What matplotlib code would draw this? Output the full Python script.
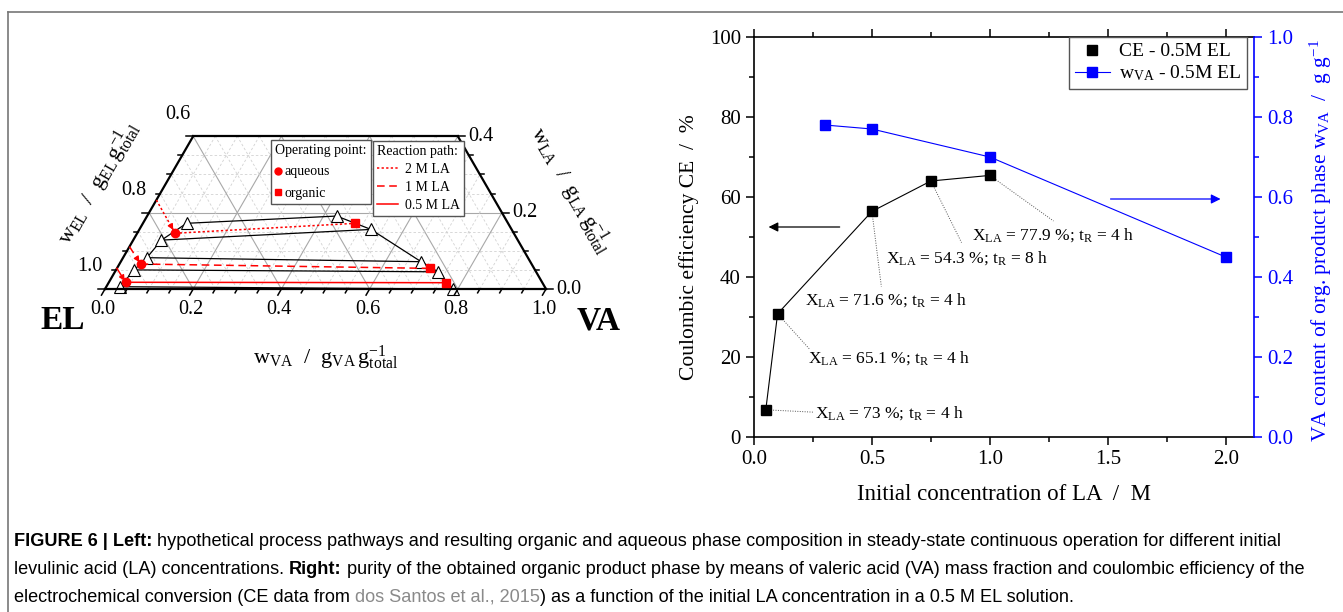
import numpy as np
import matplotlib
matplotlib.use("Agg")
import matplotlib.pyplot as plt
from matplotlib.lines import Line2D
from matplotlib import font_manager

W, H = 1343, 612
SERIF = "Liberation Serif"
plt.rcParams["font.family"] = SERIF
plt.rcParams["mathtext.fontset"] = "custom"
plt.rcParams["mathtext.rm"] = SERIF
plt.rcParams["mathtext.it"] = SERIF + ":italic"
plt.rcParams["mathtext.bf"] = SERIF + ":bold"

names = {f.name for f in font_manager.fontManager.ttflist}
SANS = "Liberation Sans Narrow" if "Liberation Sans Narrow" in names else "Liberation Sans"

# ── Left: ternary data (w_VA, w_LA), w_EL = 1 - w_VA - w_LA ──────────────────
bin_left_va = [0.099, 0.064, 0.054, 0.041, 0.031]
bin_left_la = [0.172, 0.128, 0.082, 0.050, 0.006]
bin_right_va = [0.430, 0.525, 0.681, 0.733, 0.790]
bin_right_la = [0.191, 0.156, 0.0715, 0.045, 0.0]

path_labels = ["2 M LA", "1 M LA", "0.5 M LA"]
path_styles = [(0, (1.5, 1.5)), (0, (5, 3)), "-"]
feed_la = [0.233, 0.111, 0.054]
aq_va = [0.086, 0.048, 0.038]
aq_la = [0.146, 0.0654, 0.0176]
org_va = [0.482, 0.710, 0.766]
org_la = [0.172, 0.054, 0.0165]

# ── Right: CE and w_VA vs initial LA concentration ───────────────────────────
conc_ce = [0.05, 0.1, 0.5, 0.75, 1.0]
ce = [6.8, 30.8, 56.4, 64.0, 65.4]
conv_text = ["73", "65.1", "71.6", "54.3", "77.9"]
time_text = ["4", "4", "4", "8", "4"]
conc_wva = [0.3, 0.5, 1.0, 2.0]
wva = [0.78, 0.77, 0.70, 0.45]

S3 = np.sqrt(3) / 2


def tern(va, la):
    va = np.asarray(va, dtype=float)
    la = np.asarray(la, dtype=float)
    return va + 0.5 * la, la * S3


fig = plt.figure(figsize=(W / 100, H / 100), dpi=100)
renderer = fig.canvas.get_renderer()

# figure frame (left and top only visible)
fig.add_artist(Line2D([8 / W, 8 / W], [0, 1 - 12 / H], color="#777777", lw=1.2))
fig.add_artist(Line2D([8 / W, 1], [1 - 12 / H, 1 - 12 / H], color="#777777", lw=1.2))

# ═════════════════════════ ternary panel ═════════════════════════════════════
LAMAX = 0.4
axt = fig.add_axes([105 / W, 1 - 289 / H, 441 / W, LAMAX * S3 * 441 / H])
axt.set_xlim(0, 1)
axt.set_ylim(0, LAMAX * S3)
axt.axis("off")

major_grid = dict(color="#a8a8a8", lw=0.8, ls="-", zorder=1)
minor_grid = dict(color="#d2d2d2", lw=0.6, ls=(0, (3, 2.5)), zorder=1)
for k in range(1, 20):
    v = k * 0.05
    st = major_grid if k % 4 == 0 else minor_grid
    if v < LAMAX - 1e-9:
        axt.plot(*tern([0, 1 - v], [v, v]), **st)
    lam = min(LAMAX, 1 - v)
    axt.plot(*tern([v, v], [0, lam]), **st)
    s = 1 - v
    lam = min(LAMAX, s)
    axt.plot(*tern([s, s - lam], [0, lam]), **st)

# frame edges
edge = dict(color="black", lw=1.6, zorder=5, solid_capstyle="projecting", clip_on=False)
axt.plot(*tern([0, 1], [0, 0]), **edge)
axt.plot(*tern([0, 0], [0, LAMAX]), **edge)
axt.plot(*tern([1, 1 - LAMAX], [0, LAMAX]), **edge)
axt.plot(*tern([0, 1 - LAMAX], [LAMAX, LAMAX]), **edge)

# ticks + tick labels
TFS = 14.5
tick = dict(color="black", lw=1.1, clip_on=False, zorder=5)
for k in range(0, 21):
    v = k * 0.05
    x0, y0 = tern(v, 0)
    L = 0.016 if k % 4 == 0 else 0.010
    axt.plot([x0, x0 - 0.5 * L], [y0, y0 - S3 * L], **tick)
    if k % 4 == 0:
        axt.text(x0 - 0.005, y0 - 0.026, f"{v:.1f}", ha="center", va="top", fontsize=TFS)
for k in range(0, 9):
    la = k * 0.05
    L = 0.016 if k % 4 == 0 else 0.010
    x0, y0 = tern(0, la)
    axt.plot([x0, x0 - L], [y0, y0], **tick)
    x1, y1 = tern(1 - la, la)
    axt.plot([x1, x1 + L], [y1, y1], **tick)
    if k % 4 == 0:
        axt.text(x0 - 0.034, y0 + 0.05, f"{1 - la:.1f}", ha="center", va="center", fontsize=TFS)
        axt.text(x1 + 0.024, y1, f"{la:.1f}", ha="left", va="center", fontsize=TFS)

# binodal and tie lines
axt.plot(*tern(bin_left_va, bin_left_la), color="black", lw=0.9, zorder=3)
axt.plot(*tern(bin_right_va, bin_right_la), color="black", lw=0.9, zorder=3)
for i in range(len(bin_left_va)):
    axt.plot(*tern([bin_left_va[i], bin_right_va[i]], [bin_left_la[i], bin_right_la[i]]),
             color="black", lw=0.9, zorder=3)
tri = dict(marker="^", ms=9, mfc="white", mec="black", mew=0.8, ls="none", zorder=4, clip_on=False)
axt.plot(*tern(bin_left_va, bin_left_la), **tri)
axt.plot(*tern(bin_right_va, bin_right_la), **tri)

# operating paths
for i in range(3):
    fx, fy = tern(0, feed_la[i])
    ax_, ay_ = tern(aq_va[i], aq_la[i])
    ox, oy = tern(org_va[i], org_la[i])
    axt.plot([fx, ax_], [fy, ay_], color="red", lw=1.1, ls=path_styles[i], zorder=6)
    axt.plot([ax_, ox], [ay_, oy], color="red", lw=1.1, ls=path_styles[i], zorder=6)
    axt.annotate("", xy=(fx + (ax_ - fx) * 0.9, fy + (ay_ - fy) * 0.9),
                 xytext=(fx + (ax_ - fx) * 0.78, fy + (ay_ - fy) * 0.78),
                 arrowprops=dict(arrowstyle="-|>", color="red", lw=1, mutation_scale=8),
                 zorder=7)
    axt.plot(ax_, ay_, marker="o", ms=6, color="red", ls="none", zorder=8, clip_on=False)
    axt.plot(ox, oy, marker="s", ms=5.5, color="red", ls="none", zorder=8, clip_on=False)

# axis titles
AFS = 16
axt.text(0.5, -0.155, r"$\mathrm{w}_{\mathrm{VA}}$  /  $\mathrm{g}_{\mathrm{VA}}\,\mathrm{g}_{\mathrm{total}}^{\mathrm{-1}}$",
         ha="center", va="center", fontsize=AFS)
axt.text(-0.015, 0.24, r"$\mathrm{w}_{\mathrm{EL}}$  /  $\mathrm{g}_{\mathrm{EL}}\,\mathrm{g}_{\mathrm{total}}^{\mathrm{-1}}$",
         ha="center", va="center", fontsize=AFS, rotation=60, rotation_mode="anchor")
axt.text(1.057, 0.225, r"$\mathrm{w}_{\mathrm{LA}}$  /  $\mathrm{g}_{\mathrm{LA}}\,\mathrm{g}_{\mathrm{total}}^{\mathrm{-1}}$",
         ha="center", va="center", fontsize=AFS, rotation=-60, rotation_mode="anchor")
axt.text(-0.095, -0.072, "EL", ha="center", va="center", fontsize=24, fontweight="bold")
axt.text(1.12, -0.072, "VA", ha="center", va="center", fontsize=24, fontweight="bold")

# legends
LFS = 10
h_op = [Line2D([], [], marker="o", ms=5, color="red", ls="none"),
        Line2D([], [], marker="s", ms=4.5, color="red", ls="none")]
leg1 = axt.legend(h_op, ["aqueous", "organic"], title="Operating point:", loc="upper left",
                  bbox_to_anchor=(271 / W, 1 - 140 / H), bbox_transform=fig.transFigure,
                  fontsize=LFS, title_fontsize=LFS, fancybox=False, edgecolor="#555555",
                  framealpha=1, handlelength=0.4, handletextpad=0.3, borderpad=0.3,
                  labelspacing=0.6, alignment="left", borderaxespad=0)
leg1.get_frame().set_linewidth(1)
leg1.set_zorder(10)
axt.add_artist(leg1)
x_leg2 = leg1.get_window_extent(renderer).x1 + 2
h_rp = [Line2D([], [], color="red", lw=1.1, ls=s) for s in path_styles]
leg2 = axt.legend(h_rp, path_labels, title="Reaction path:", loc="upper left",
                  bbox_to_anchor=(x_leg2 / W, 1 - 141 / H), bbox_transform=fig.transFigure,
                  fontsize=LFS, title_fontsize=LFS, fancybox=False, edgecolor="#555555",
                  framealpha=1, handlelength=1.5, handletextpad=0.5, borderpad=0.3,
                  labelspacing=0.35, alignment="left", borderaxespad=0)
leg2.get_frame().set_linewidth(1)
leg2.set_zorder(10)

# ═════════════════════════ right panel ═══════════════════════════════════════
ax = fig.add_axes([754 / W, 1 - 437 / H, 500 / W, 400 / H])
ax.set_xlim(0, 2.12)
ax.set_ylim(0, 100)
ax.set_xticks([0, 0.5, 1.0, 1.5, 2.0])
ax.set_xticks(np.arange(0, 2.1, 0.25), minor=True)
ax.set_yticks(np.arange(0, 101, 20))
ax.set_yticks(np.arange(0, 101, 10), minor=True)
ax.xaxis.set_major_formatter(matplotlib.ticker.FormatStrFormatter("%.1f"))
ax.tick_params(which="both", direction="out", top=True, labelsize=15, width=1.1)
ax.tick_params(which="major", length=6)
ax.tick_params(which="minor", length=3.5)
for sp in ax.spines.values():
    sp.set_linewidth(1.2)
ax.spines["right"].set_visible(False)

ax.plot(conc_ce, ce, color="black", lw=0.8, zorder=3)
ax.plot(conc_ce, ce, marker="s", ms=7, color="black", ls="none", zorder=4, clip_on=False)

# annotations for CE points
label_pos = [(0.26, 6.0), (0.23, 19.8), (0.215, 34.3), (0.56, 44.8), (0.925, 50.6)]
line_end = [(0.255, 6.2), (0.235, 22.0), (0.54, 37.6), (0.88, 48.6), (1.27, 54.0)]
for i in range(len(conc_ce)):
    ax.plot([conc_ce[i], line_end[i][0]], [ce[i], line_end[i][1]], color="#555555",
            lw=0.7, ls=(0, (1, 1.5)), zorder=2)
    ax.text(label_pos[i][0], label_pos[i][1],
            r"X$_{\mathrm{LA}}$ = " + conv_text[i] + r" %; t$_{\mathrm{R}}$ = " + time_text[i] + " h",
            ha="left", va="center", fontsize=12.5)

ax.annotate("", xy=(0.05, 52.5), xytext=(0.375, 52.5),
            arrowprops=dict(arrowstyle="-|>", color="black", lw=0.9, mutation_scale=14))

ax.set_xlabel("Initial concentration of LA  /  M", fontsize=16.5)
ax.xaxis.set_label_coords(0.5, -0.118)
ax.set_ylabel("Coulombic efficiency CE  /  %", fontsize=15.5)
ax.yaxis.set_label_coords(-0.11, 0.475)

ax2 = ax.twinx()
ax2.set_ylim(0, 1)
ax2.set_yticks(np.arange(0, 1.01, 0.2))
ax2.set_yticks(np.arange(0, 1.01, 0.1), minor=True)
ax2.yaxis.set_major_formatter(matplotlib.ticker.FormatStrFormatter("%.1f"))
for sp in ["left", "top", "bottom"]:
    ax2.spines[sp].set_visible(False)
ax2.spines["right"].set_color("blue")
ax2.spines["right"].set_linewidth(1.2)
ax2.tick_params(which="both", direction="out", colors="blue", labelsize=15, width=1.1)
ax2.tick_params(which="major", length=6)
ax2.tick_params(which="minor", length=3.5)
ax2.plot(conc_wva, wva, color="blue", lw=0.8, marker="s", ms=7, zorder=3, clip_on=False)
ax2.annotate("", xy=(1.99, 0.595), xytext=(1.5, 0.595),
             arrowprops=dict(arrowstyle="-|>", color="blue", lw=0.9, mutation_scale=14))
ax2.set_ylabel(r"VA content of org. product phase w$_{\mathrm{VA}}$  /  g g$^{\mathrm{-1}}$",
               color="blue", fontsize=15.5)
ax2.yaxis.set_label_coords(1.108, 0.49)

h_r = [Line2D([], [], marker="s", ms=7, color="black", ls="none"),
       Line2D([], [], marker="s", ms=7, color="blue", lw=0.8)]
leg3 = ax2.legend(h_r, ["CE - 0.5M EL", r"w$_{\mathrm{VA}}$ - 0.5M EL"], loc="upper right",
                  bbox_to_anchor=(1247 / W, 1 - 37 / H), bbox_transform=fig.transFigure,
                  fontsize=14, fancybox=False, edgecolor="#555555", framealpha=1,
                  handlelength=1.8, handletextpad=0.5, borderpad=0.3, labelspacing=0.15,
                  borderaxespad=0)
leg3.get_frame().set_linewidth(1)

# ═════════════════════════ caption ═══════════════════════════════════════════
caption = [
    [("FIGURE 6 | Left:", "bold", "black"),
     (" hypothetical process pathways and resulting organic and aqueous phase composition in "
      "steady-state continuous operation for different initial", "normal", "black")],
    [("levulinic acid (LA) concentrations. ", "normal", "black"), ("Right:", "bold", "black"),
     (" purity of the obtained organic product phase by means of valeric acid (VA) mass fraction "
      "and coulombic efficiency of the", "normal", "black")],
    [("electrochemical conversion (CE data from ", "normal", "black"),
     ("dos Santos et al., 2015", "normal", "#8a8a8a"),
     (") as a function of the initial LA concentration in a 0.5 M EL solution.", "normal", "black")],
]


def line_width(parts, size):
    total = 0
    for txt, wt, col in parts:
        t = fig.text(0, 0, txt, fontsize=size, fontweight=wt, family=SANS)
        total += t.get_window_extent(renderer).width
        t.remove()
    return total


cap_size = 11.5 * 1278 / line_width(caption[0], 11.5)
for row, y in zip(caption, [541, 569, 597]):
    x = 14
    for txt, wt, col in row:
        t = fig.text(x / W, 1 - y / H, txt, fontsize=cap_size, fontweight=wt, color=col,
                     family=SANS, va="center", ha="left")
        x += t.get_window_extent(renderer).width

fig.savefig("out.png", dpi=100)
